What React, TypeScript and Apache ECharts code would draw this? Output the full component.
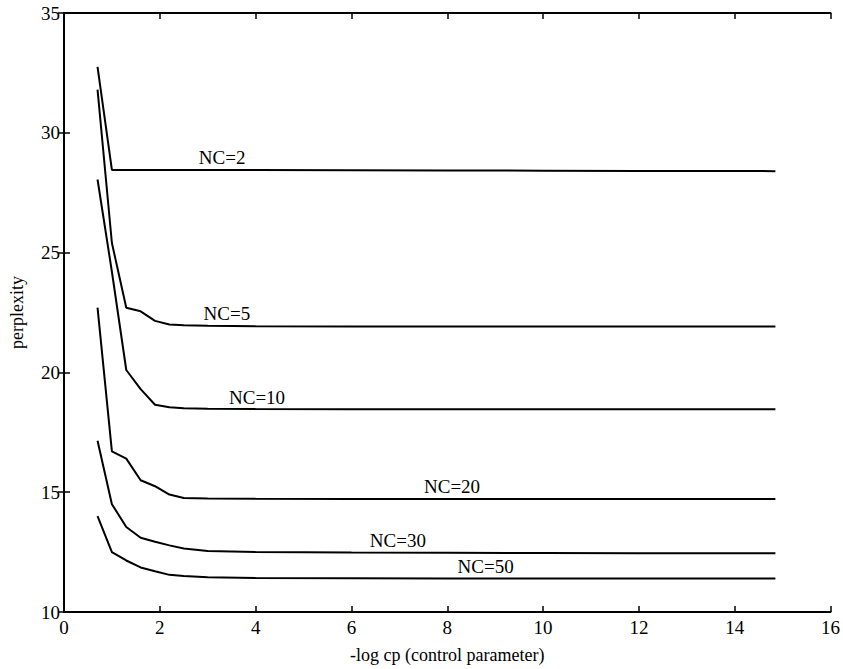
import React, { useEffect, useRef } from "react";
import * as echarts from "echarts";

const xValues = [0.7, 1.0, 1.3, 1.6, 1.9, 2.2, 2.5, 3.0, 4.0, 6.0, 8.0, 10.0, 12.0, 14.85];
const nc2 = [32.75, 28.45, 28.45, 28.45, 28.45, 28.45, 28.45, 28.45, 28.45, 28.44, 28.43, 28.42, 28.41, 28.4];
const nc5 = [31.8, 25.4, 22.7, 22.55, 22.15, 22.0, 21.97, 21.95, 21.93, 21.92, 21.92, 21.92, 21.92, 21.92];
const nc10 = [28.05, 24.2, 20.1, 19.3, 18.65, 18.55, 18.5, 18.48, 18.47, 18.46, 18.46, 18.46, 18.46, 18.46];
const nc20 = [22.7, 16.7, 16.4, 15.5, 15.25, 14.9, 14.76, 14.74, 14.73, 14.72, 14.72, 14.72, 14.72, 14.72];
const nc30 = [17.15, 14.5, 13.55, 13.1, 12.93, 12.78, 12.65, 12.55, 12.5, 12.48, 12.47, 12.46, 12.45, 12.45];
const nc50 = [14.0, 12.5, 12.15, 11.86, 11.7, 11.55, 11.5, 11.45, 11.42, 11.41, 11.4, 11.4, 11.4, 11.4];

const seriesNames = ["NC=2", "NC=5", "NC=10", "NC=20", "NC=30", "NC=50"];
const seriesValues = [nc2, nc5, nc10, nc20, nc30, nc50];
// label anchor points (data coordinates)
const labelX = [3.3, 3.4, 4.03, 8.1, 6.97, 8.8];
const labelY = [28.98, 22.45, 18.95, 15.22, 12.98, 11.9];

const FONT = "'Liberation Serif', 'DejaVu Serif', serif";

export default function App() {
  const ref = useRef<HTMLDivElement>(null);
  useEffect(() => {
    document.body.style.margin = "0";
    const chart = echarts.init(ref.current!, undefined, { renderer: "svg" });
    const axisLine = { show: true, lineStyle: { color: "#000", width: 2 } };
    const tickIn = { show: true, inside: true, length: 6, lineStyle: { color: "#000", width: 1.5 } };
    const series: any[] = seriesValues.map((vals, i) => ({
      type: "line",
      name: seriesNames[i],
      data: xValues.map((x, j) => [x, vals[j]]),
      showSymbol: false,
      lineStyle: { color: "#000", width: 2 },
      markPoint: {
        symbol: "circle",
        symbolSize: 0,
        data: [{ coord: [labelX[i], labelY[i]], value: seriesNames[i] }],
        label: {
          show: true,
          position: "inside",
          formatter: seriesNames[i],
          color: "#000",
          fontFamily: FONT,
          fontSize: 19,
        },
      },
    }));
    chart.setOption({
      animation: false,
      backgroundColor: "#fff",
      grid: { left: 61, right: 12, top: 13, bottom: 56 },
      xAxis: [
        {
          type: "value",
          min: 0,
          max: 16,
          interval: 2,
          position: "bottom",
          axisLine,
          axisTick: tickIn,
          splitLine: { show: false },
          axisLabel: { color: "#000", fontFamily: FONT, fontSize: 19, margin: 6 },
          name: "-log cp (control parameter)",
          nameLocation: "middle",
          nameGap: 34,
          nameTextStyle: { color: "#000", fontFamily: FONT, fontSize: 18 },
        },
        {
          type: "value",
          min: 0,
          max: 16,
          interval: 2,
          position: "top",
          axisLine,
          axisTick: tickIn,
          splitLine: { show: false },
          axisLabel: { show: false },
        },
      ],
      yAxis: [
        {
          type: "value",
          min: 10,
          max: 35,
          interval: 5,
          position: "left",
          axisLine,
          axisTick: tickIn,
          splitLine: { show: false },
          axisLabel: { color: "#000", fontFamily: FONT, fontSize: 19, margin: 4 },
          name: "perplexity",
          nameLocation: "middle",
          nameGap: 38,
          nameTextStyle: { color: "#000", fontFamily: FONT, fontSize: 18 },
        },
        {
          type: "value",
          min: 10,
          max: 35,
          interval: 5,
          position: "right",
          axisLine,
          axisTick: tickIn,
          splitLine: { show: false },
          axisLabel: { show: false },
        },
      ],
      series,
    });
    return () => chart.dispose();
  }, []);
  return <div ref={ref} style={{ width: 843, height: 669 }} />;
}
